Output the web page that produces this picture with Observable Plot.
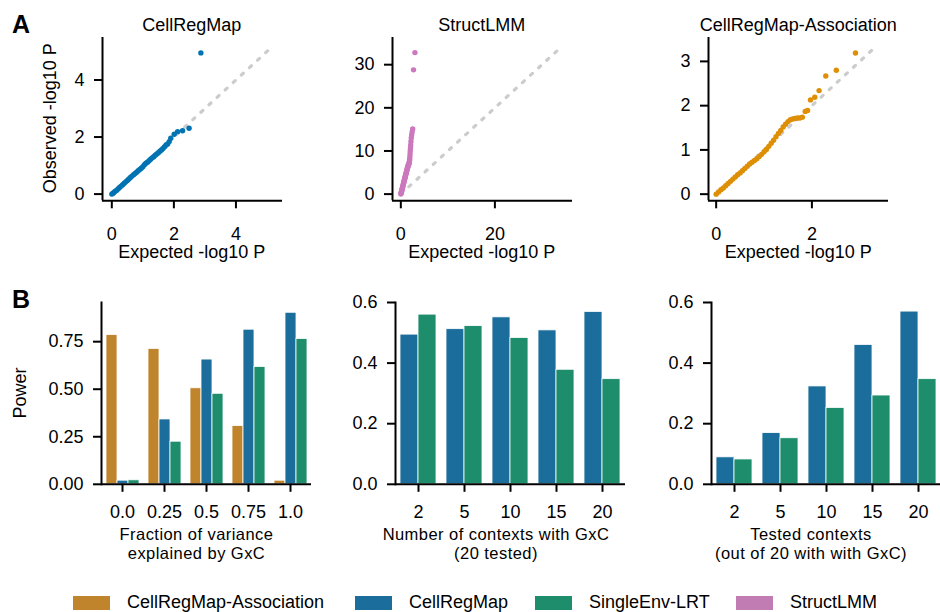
<!DOCTYPE html>
<html><head><meta charset="utf-8">
<script src="https://cdn.jsdelivr.net/npm/d3@7"></script>
<script src="https://cdn.jsdelivr.net/npm/@observablehq/plot@0.6"></script>
<style>
html,body{margin:0;padding:0;background:#fff;}
#fig{position:relative;width:940px;height:612px;overflow:hidden;font-family:"Liberation Sans",Arial,Helvetica,sans-serif;color:#000;background:#fff;}
.lgitem{position:absolute;top:594px;height:17px;display:flex;align-items:center;font-size:18px;line-height:17px;white-space:nowrap;}
.lgitem .sw{width:37px;height:14px;margin-right:17px;}
</style></head>
<body><div id="fig"></div>
<script>
// ---------- DATA ----------
const methods = ["CellRegMap-Association", "CellRegMap", "SingleEnv-LRT", "StructLMM"];
const barColors = ["#c0842c", "#1b6d9c", "#1d8d6b", "#c17db3"];
const dotColors = {"CellRegMap": "#0173b2", "StructLMM": "#cc78bc", "CellRegMap-Association": "#de8f05"};

// Panel A: QQ plots (expected vs observed -log10 P)
const qqCellRegMapExpected = [0.00,0.03,0.06,0.10,0.15,0.20,0.25,0.30,0.35,0.40,0.45,0.50,0.55,0.60,0.65,0.70,0.75,0.80,0.85,0.90,0.95,1.00,1.05,1.10,1.15,1.20,1.25,1.30,1.35,1.40,1.45,1.50,1.55,1.60,1.65,1.70,1.75,1.80,1.85,1.90,2.01,2.12,2.28,2.49,2.87];
const qqCellRegMapObserved = [0.00,0.02,0.05,0.09,0.13,0.18,0.23,0.28,0.33,0.38,0.43,0.48,0.53,0.58,0.63,0.68,0.72,0.77,0.82,0.86,0.91,0.96,1.03,1.08,1.12,1.17,1.22,1.27,1.31,1.36,1.41,1.45,1.50,1.55,1.60,1.66,1.72,1.76,1.84,1.96,2.10,2.19,2.22,2.31,4.95];

const qqStructLMMExpected = [0.00,0.05,0.10,0.15,0.20,0.25,0.30,0.35,0.40,0.45,0.50,0.55,0.60,0.65,0.70,0.75,0.80,0.85,0.90,0.95,1.00,1.05,1.10,1.15,1.20,1.25,1.30,1.35,1.40,1.45,1.50,1.55,1.60,1.65,1.70,1.75,1.80,1.84,1.88,1.92,1.96,2.00,2.05,2.10,2.15,2.22,2.30,2.40,2.52,2.70,3.00];
const qqStructLMMObserved = [0.00,0.20,0.40,0.62,0.85,1.05,1.28,1.50,1.72,1.92,2.15,2.38,2.60,2.82,3.05,3.25,3.45,3.68,3.90,4.10,4.30,4.52,4.75,4.95,5.15,5.38,5.60,5.80,6.05,6.20,6.40,6.55,6.75,6.88,7.00,7.15,7.30,7.70,8.10,8.60,9.30,10.0,10.7,11.4,12.2,13.0,13.7,14.4,15.1,28.8,32.8];

const qqAssocExpected = [0.00,0.05,0.10,0.15,0.20,0.25,0.30,0.35,0.40,0.45,0.50,0.55,0.60,0.65,0.70,0.75,0.80,0.85,0.90,0.95,1.00,1.05,1.10,1.15,1.20,1.25,1.30,1.35,1.40,1.45,1.50,1.55,1.60,1.65,1.70,1.75,1.80,1.86,1.91,1.97,2.06,2.15,2.29,2.51,2.91];
const qqAssocObserved = [0.00,0.05,0.10,0.14,0.19,0.24,0.29,0.34,0.39,0.44,0.48,0.53,0.58,0.63,0.68,0.72,0.76,0.80,0.85,0.90,0.96,1.01,1.08,1.15,1.22,1.30,1.37,1.44,1.52,1.58,1.64,1.68,1.70,1.71,1.72,1.72,1.74,1.87,1.89,2.13,2.19,2.34,2.67,2.80,3.19];

const qqRefMax = [5.1, 33.7, 3.3];   // extent of the dotted y = x reference line

// Panel B: power bar charts
const fracGroups = ["0.0", "0.25", "0.5", "0.75", "1.0"];
const powerAssocFrac = [0.785, 0.712, 0.505, 0.306, 0.019];
const powerCellRegMapFrac = [0.019, 0.341, 0.656, 0.813, 0.902];
const powerSingleEnvFrac = [0.021, 0.224, 0.476, 0.617, 0.764];

const nContextGroups = ["2", "5", "10", "15", "20"];
const powerCellRegMapN = [0.494, 0.512, 0.551, 0.508, 0.569];
const powerSingleEnvN = [0.560, 0.522, 0.483, 0.378, 0.347];

const testedGroups = ["2", "5", "10", "15", "20"];
const powerCellRegMapTested = [0.089, 0.169, 0.323, 0.460, 0.570];
const powerSingleEnvTested = [0.082, 0.152, 0.252, 0.293, 0.347];

// ---------- DRAWING ----------
const FONT = '"Liberation Sans", Arial, Helvetica, sans-serif';
const fig = document.getElementById("fig");
const M = {l: 60, r: 12, t: 8, b: 40};
const baseStyle = {fontFamily: FONT, fontSize: "18px", color: "#000", background: "transparent", overflow: "visible"};
function place(el, left, top) {
  el.style.position = "absolute";
  el.style.left = left + "px";
  el.style.top = top + "px";
  fig.appendChild(el);
}
const colorOf = name => barColors[methods.indexOf(name)];
const intFmt = d3.format("d");

function qqPanel(expected, observed, refMax, color, xDomain, yDomain, xTicks, yTicks, plotLeft, plotTop) {
  const pts = expected.map((e, i) => ({e, o: observed[i]}));
  const ref = [{e: 0, o: 0}, {e: refMax, o: refMax}];
  const W = 180, H = 163.3;
  const chart = Plot.plot({
    width: W + M.l + M.r, height: H + M.t + M.b,
    marginLeft: M.l, marginRight: M.r, marginTop: M.t, marginBottom: M.b,
    x: {domain: xDomain}, y: {domain: yDomain},
    style: baseStyle,
    marks: [
      Plot.line(ref, {x: "e", y: "o", stroke: "#cccccc", strokeWidth: 3.2, strokeDasharray: "2.6,8.4"}),
      Plot.dot(pts, {x: "e", y: "o", r: 2.7, fill: color}),
      Plot.ruleX([xDomain[0]], {strokeWidth: 2}),
      Plot.ruleY([yDomain[0]], {strokeWidth: 2}),
      Plot.axisX({ticks: xTicks, tickFormat: intFmt, tickSize: 8, tickPadding: 18, strokeWidth: 2, label: null}),
      Plot.axisY({ticks: yTicks, tickFormat: intFmt, tickSize: 8, tickPadding: 10, strokeWidth: 2, label: null})
    ]
  });
  place(chart, plotLeft - M.l, plotTop - M.t);
}

function barPanel(groups, seriesNames, seriesValues, yDomain, yTicks, fmt, plotLeft, plotTop, W, H, padOuter) {
  const rows = [];
  groups.forEach((g, i) => seriesNames.forEach((s, j) => rows.push({g, s, v: seriesValues[j][i]})));
  const chart = Plot.plot({
    width: W + M.l + M.r, height: H + M.t + M.b,
    marginLeft: M.l, marginRight: M.r, marginTop: M.t, marginBottom: M.b,
    fx: {domain: groups, paddingInner: 0, paddingOuter: 0, label: null},
    x: {domain: seriesNames, paddingInner: 0, paddingOuter: padOuter, axis: null},
    y: {domain: yDomain},
    color: {domain: seriesNames, range: seriesNames.map(colorOf)},
    style: baseStyle,
    marks: [
      Plot.barY(rows, {fx: "g", x: "s", y: "v", fill: "s", stroke: "#fff", strokeWidth: 0.8}),
      Plot.ruleY([0], {strokeWidth: 2}),
      Plot.frame({anchor: "left", facetAnchor: "left", strokeWidth: 2}),
      Plot.axisFx({anchor: "bottom", tickSize: 8, tickPadding: 13, strokeWidth: 2, label: null}),
      Plot.axisY({ticks: yTicks, tickFormat: fmt, tickSize: 8, tickPadding: 10, strokeWidth: 2, label: null})
    ]
  });
  place(chart, plotLeft - M.l, plotTop - M.t);
}

qqPanel(qqCellRegMapExpected, qqCellRegMapObserved, qqRefMax[0], dotColors["CellRegMap"],
        [-0.3, 5.5], [-0.235, 5.49], [0, 2, 4], [0, 2, 4], 101.7, 36.7);
qqPanel(qqStructLMMExpected, qqStructLMMObserved, qqRefMax[1], dotColors["StructLMM"],
        [-1.77, 36.5], [-1.55, 36.3], [0, 20], [0, 10, 20, 30], 391.7, 36.7);
qqPanel(qqAssocExpected, qqAssocObserved, qqRefMax[2], dotColors["CellRegMap-Association"],
        [-0.16, 3.6], [-0.15, 3.54], [0, 2], [0, 1, 2, 3], 708.3, 36.7);

barPanel(fracGroups, ["CellRegMap-Association", "CellRegMap", "SingleEnv-LRT"],
         [powerAssocFrac, powerCellRegMapFrac, powerSingleEnvFrac],
         [0, 0.956], [0, 0.25, 0.5, 0.75], d3.format(".2f"), 100, 301.7, 211, 181.8, 0.375);
barPanel(nContextGroups, ["CellRegMap", "SingleEnv-LRT"],
         [powerCellRegMapN, powerSingleEnvN],
         [0, 0.6], [0, 0.2, 0.4, 0.6], d3.format(".1f"), 392.7, 301.7, 233, 181.8, 0.25);
barPanel(testedGroups, ["CellRegMap", "SingleEnv-LRT"],
         [powerCellRegMapTested, powerSingleEnvTested],
         [0, 0.6], [0, 0.2, 0.4, 0.6], d3.format(".1f"), 709.3, 301.7, 233, 181.8, 0.25);

// ---------- TEXT OVERLAY ----------
const ov = d3.create("svg").attr("width", 940).attr("height", 612)
  .style("position", "absolute").style("left", "0px").style("top", "0px")
  .style("font-family", FONT).style("overflow", "visible");
function txt(s, x, y, opts = {}) {
  const t = ov.append("text").attr("x", x).attr("y", y).text(s)
    .attr("font-size", opts.size || 18).attr("fill", "#000")
    .attr("text-anchor", opts.anchor || "middle");
  if (opts.bold) t.attr("font-weight", "bold");
  if (opts.spacing) t.attr("letter-spacing", opts.spacing);
  if (opts.rotate) t.attr("transform", `rotate(-90,${x},${y})`);
  return t;
}
txt("A", 12, 33, {size: 25, bold: true, anchor: "start"});
txt("B", 12, 308, {size: 25, bold: true, anchor: "start"});
const titleX = [191.7, 481.7, 798.3];
const titles = ["CellRegMap", "StructLMM", "CellRegMap-Association"];
titles.forEach((t, i) => { txt(t, titleX[i], 31); txt("Expected -log10 P", titleX[i], 258); });
txt("Observed -log10 P", 56, 118.3, {rotate: true});
txt("Power", 25.6, 393, {rotate: true});
const bLabels = [["Fraction of variance", "explained by GxC"], ["Number of contexts with GxC", "(20 tested)"], ["Tested contexts", "(out of 20 with with GxC)"]];
const bLabelX = [196.5, 496, 811];
bLabels.forEach((ls, i) => {
  txt(ls[0], bLabelX[i], 540, {size: 16.5, spacing: 0.45});
  txt(ls[1], bLabelX[i], 559, {size: 16.5, spacing: 0.45});
});
fig.appendChild(ov.node());

// ---------- LEGEND ----------
const legendLeft = [73, 355, 535, 736];
methods.forEach((m, i) => {
  const item = document.createElement("div"); item.className = "lgitem"; item.style.left = legendLeft[i] + "px";
  const sw = document.createElement("span"); sw.className = "sw"; sw.style.background = barColors[i];
  const lb = document.createElement("span"); lb.textContent = m;
  item.appendChild(sw); item.appendChild(lb);
  fig.appendChild(item);
});
</script>
</body></html>
